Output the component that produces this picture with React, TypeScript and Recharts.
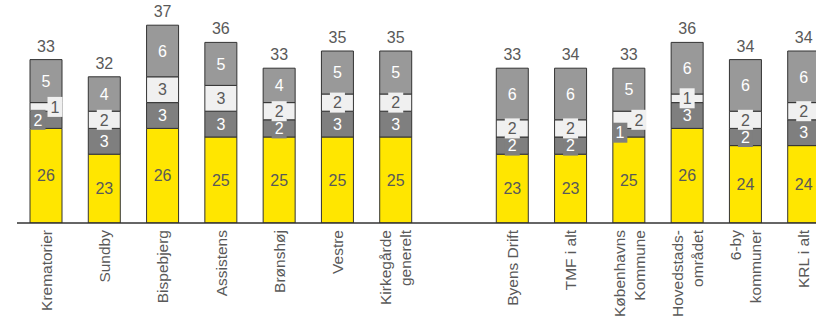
import React from 'react';
import { BarChart, Bar, XAxis, YAxis, LabelList } from 'recharts';

// '' marks the empty slot between the two groups
const categories = [
  'Krematorier', 'Sundby', 'Bispebjerg', 'Assistens', 'Brønshøj', 'Vestre', 'Kirkegårde\ngenerelt',
  '',
  'Byens Drift', 'TMF i alt', 'Københavns\nKommune', 'Hovedstads-\nområdet', '6-by\nkommuner', 'KRL i alt',
];
const yellowVals = [26, 23, 26, 25, 25, 25, 25, null, 23, 23, 25, 26, 24, 24];
const darkVals = [2, 3, 3, 3, 2, 3, 3, null, 2, 2, 1, 3, 2, 3];
const lightVals = [1, 2, 3, 3, 2, 2, 2, null, 2, 2, 2, 1, 2, 2];
const greyVals = [5, 4, 6, 5, 4, 5, 5, null, 6, 6, 5, 6, 6, 6];
const totals = [33, 32, 37, 36, 33, 35, 35, null, 33, 34, 33, 36, 34, 34];

const PLOT_TOP = 8;
const PLOT_BOTTOM = 223;
const TICK_Y = 230;
const LINE_H = 20;
const FONT = '"Liberation Sans", Arial, sans-serif';
const TEXT_GREY = '#595959';

const COLORS = { yellow: '#FFE600', dark: '#7F7F7F', light: '#F0F0F0', grey: '#999999' };

// sideways shifts for labels that would collide in narrow segments.
// LabelList skips the empty slot, so indexes after it are one lower.
const darkNudge: Record<number, number> = { 0: -8, 9: -9 };
const lightNudge: Record<number, number> = { 0: 9, 9: 10 };

const data = categories.map((name, i) => ({
  name,
  yellow: yellowVals[i],
  dark: darkVals[i],
  light: lightVals[i],
  grey: greyVals[i],
  total: totals[i],
}));

const makeSegLabel = (fill: string, color: string, nudge: Record<number, number> = {}) => (props: any) => {
  const { x, y, width, height, value, index } = props;
  if (value == null) return null;
  const top = Math.max(Number(y), PLOT_TOP);
  const bottom = Math.min(Number(y) + Number(height), PLOT_BOTTOM);
  const cx = Number(x) + Number(width) / 2 + (nudge[index] ?? 0);
  const cy = (top + bottom) / 2;
  const small = bottom - top < 19;
  return (
    <g>
      {small && <rect x={cx - 7.5} y={cy - 10} width={15} height={20} fill={fill} />}
      <text x={cx} y={cy} dy="0.36em" textAnchor="middle" fill={color} fontSize={16} fontFamily={FONT}>
        {value}
      </text>
    </g>
  );
};

const TotalLabel = (props: any) => {
  const { x, y, width, value } = props;
  if (value == null) return null;
  return (
    <text x={Number(x) + Number(width) / 2} y={Number(y) - 8} textAnchor="middle" fill={TEXT_GREY} fontSize={16} fontFamily={FONT}>
      {value}
    </text>
  );
};

const CategoryTick = (props: any) => {
  const { x, payload } = props;
  const lines = String(payload.value).split('\n');
  return (
    <text
      transform={`rotate(-90 ${x} ${TICK_Y})`}
      x={x}
      y={TICK_Y}
      textAnchor="end"
      fill={TEXT_GREY}
      fontSize={15.5}
      fontFamily={FONT}
    >
      {lines.map((l, i) => (
        <tspan key={i} x={x} y={TICK_Y + (i - (lines.length - 1) / 2) * LINE_H} dy="0.36em">
          {l}
        </tspan>
      ))}
    </text>
  );
};

export default function App() {
  return (
    <div style={{ position: 'absolute', left: 0, top: 0, width: 816, height: 320, overflow: 'hidden', background: '#fff', fontFamily: FONT }}>
      <BarChart width={833} height={320} data={data} margin={{ top: PLOT_TOP, right: 0, left: 17, bottom: 0 }} barSize={32}>
        <XAxis
          dataKey="name"
          interval={0}
          tickLine={false}
          axisLine={{ stroke: '#333', strokeWidth: 1.3 }}
          height={97}
          tick={CategoryTick}
        />
        <YAxis hide domain={[15, 40]} allowDataOverflow />
        <Bar dataKey="yellow" stackId="s" fill={COLORS.yellow} stroke="#333" strokeWidth={1} isAnimationActive={false}>
          <LabelList dataKey="yellow" content={makeSegLabel(COLORS.yellow, TEXT_GREY)} />
        </Bar>
        <Bar dataKey="dark" stackId="s" fill={COLORS.dark} stroke="#333" strokeWidth={1} isAnimationActive={false}>
          <LabelList dataKey="dark" content={makeSegLabel(COLORS.dark, '#fff', darkNudge)} />
        </Bar>
        <Bar dataKey="light" stackId="s" fill={COLORS.light} stroke="#333" strokeWidth={1} isAnimationActive={false}>
          <LabelList dataKey="light" content={makeSegLabel(COLORS.light, TEXT_GREY, lightNudge)} />
        </Bar>
        <Bar dataKey="grey" stackId="s" fill={COLORS.grey} stroke="#333" strokeWidth={1} isAnimationActive={false}>
          <LabelList dataKey="grey" content={makeSegLabel(COLORS.grey, '#fff')} />
          <LabelList dataKey="total" content={TotalLabel} />
        </Bar>
      </BarChart>
    </div>
  );
}
